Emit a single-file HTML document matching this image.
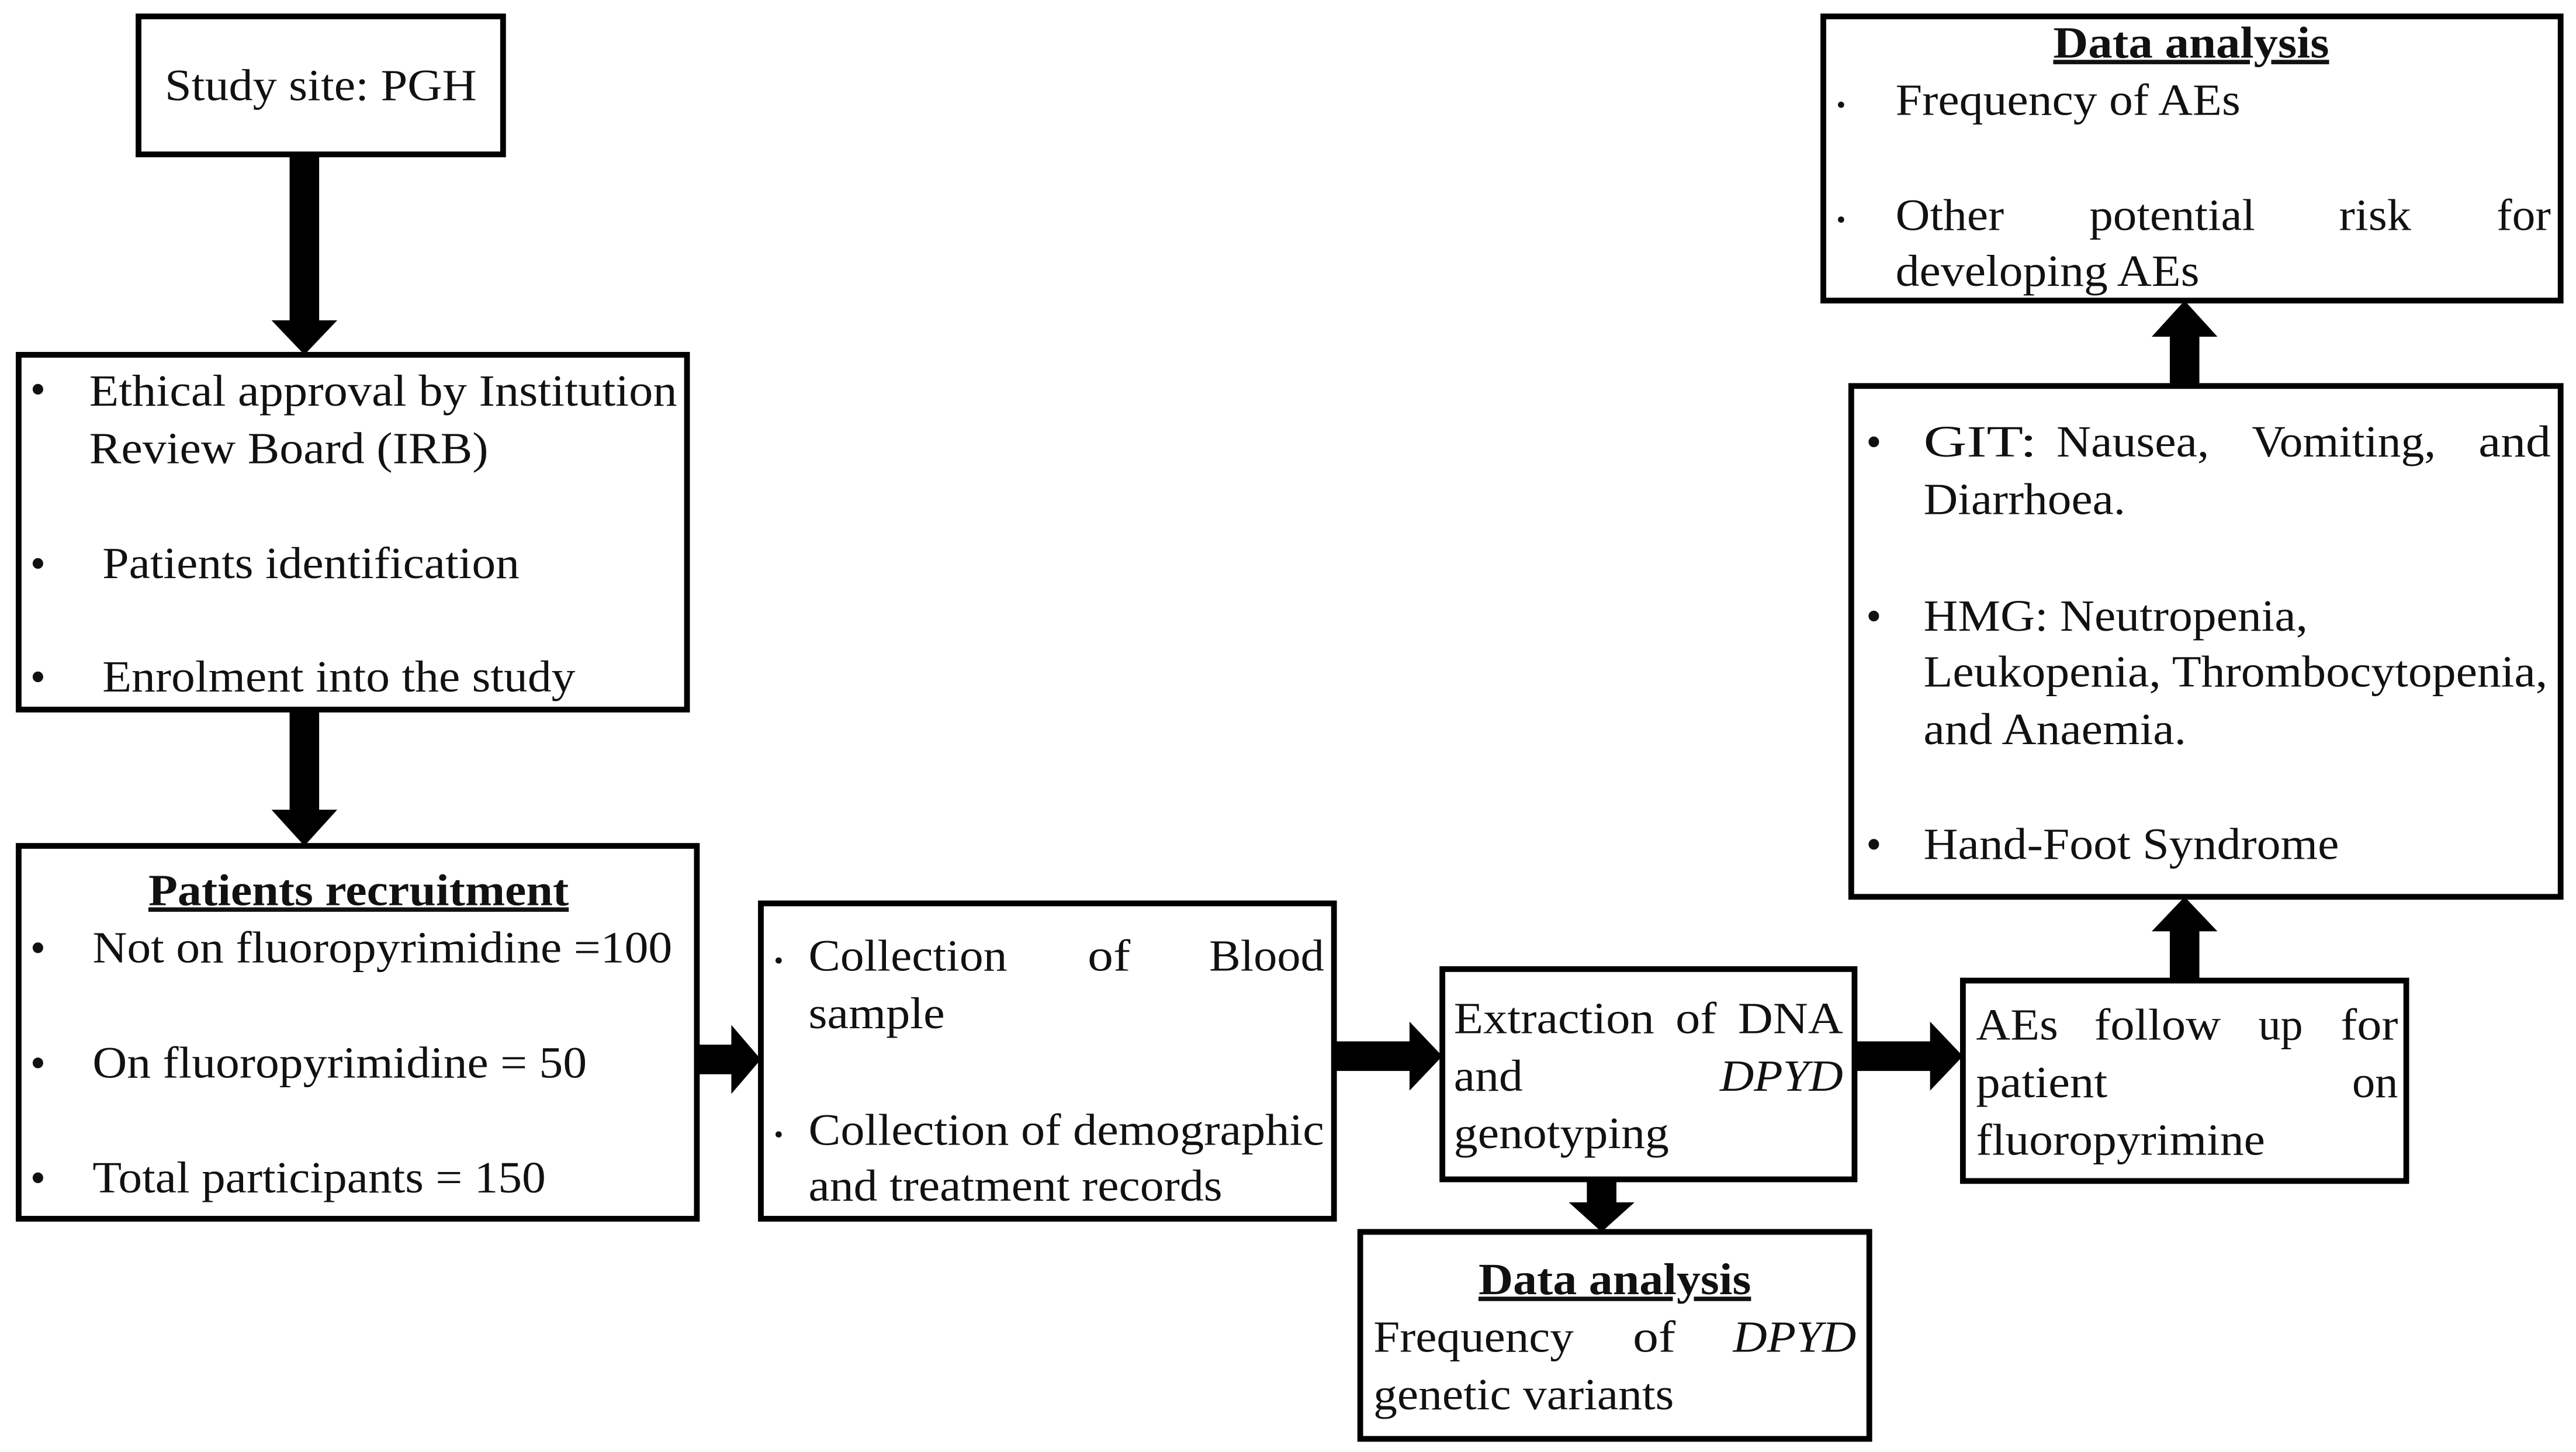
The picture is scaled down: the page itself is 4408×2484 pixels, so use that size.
<!DOCTYPE html>
<html><head><meta charset="utf-8"><style>
html,body{margin:0;padding:0;background:#fff;}
svg{display:block;}
text{font-family:"Liberation Serif","Times New Roman",serif;font-size:27px;fill:#111;}
.b{font-weight:bold;text-decoration:underline;}
</style></head><body>
<svg width="4408" height="2484" viewBox="0 0 1568 884" xmlns="http://www.w3.org/2000/svg">
<g fill="none" stroke="#000" stroke-width="3.5">
<rect x="84" y="10" width="222" height="84"/>
<rect x="11" y="216" width="407" height="216"/>
<rect x="11" y="515" width="413" height="227"/>
<rect x="463" y="550" width="349" height="192"/>
<rect x="878" y="590" width="251" height="128"/>
<rect x="828" y="750" width="310" height="126"/>
<rect x="1195" y="597" width="270" height="122"/>
<rect x="1127" y="235" width="432" height="311"/>
<rect x="1110" y="10" width="449" height="173"/>
</g>
<g fill="#000">
<polygon points="176,94 194,94 194,195 205,195 185,216 165,195 176,195"/>
<polygon points="176,432 194,432 194,493 205,493 185,515 165,493 176,493"/>
<polygon points="424,636 445,636 445,624 463,645 445,666 445,654 424,654"/>
<polygon points="812,634 858,634 858,622 878,643 858,664 858,652 812,652"/>
<polygon points="1129,634 1175,634 1175,622 1195,643 1175,664 1175,652 1129,652"/>
<polygon points="966,718 984,718 984,732 995,732 975,750 955,732 966,732"/>
<polygon points="1321,597 1339,597 1339,567 1350,567 1330,546 1310,567 1321,567"/>
<polygon points="1321,235 1339,235 1339,205 1350,205 1330,183 1310,205 1321,205"/>
</g>
<g lengthAdjust="spacingAndGlyphs">
<text x="100" y="61" textLength="190" lengthAdjust="spacingAndGlyphs">Study site: PGH</text>

<text x="18" y="246">•</text><text x="54" y="247" textLength="358" lengthAdjust="spacingAndGlyphs">Ethical approval by Institution</text>
<text x="54" y="282" textLength="243" lengthAdjust="spacingAndGlyphs">Review Board (IRB)</text>
<text x="18" y="352">•</text><text x="62" y="352" textLength="254" lengthAdjust="spacingAndGlyphs">Patients identification</text>
<text x="18" y="421">•</text><text x="62" y="421" textLength="288" lengthAdjust="spacingAndGlyphs">Enrolment into the study</text>

<text x="90" y="551" class="b" textLength="256" lengthAdjust="spacingAndGlyphs">Patients recruitment</text>
<text x="18" y="586">•</text><text x="56" y="586" textLength="353" lengthAdjust="spacingAndGlyphs">Not on fluoropyrimidine =100</text>
<text x="18" y="656">•</text><text x="56" y="656" textLength="301" lengthAdjust="spacingAndGlyphs">On fluoropyrimidine = 50</text>
<text x="18" y="726">•</text><text x="56" y="726" textLength="276" lengthAdjust="spacingAndGlyphs">Total participants = 150</text>

<text x="471" y="590" style="font-size:16px">•</text>
<text x="492" y="591" textLength="121" lengthAdjust="spacingAndGlyphs">Collection</text>
<text x="662" y="591" textLength="26" lengthAdjust="spacingAndGlyphs">of</text>
<text x="736" y="591" textLength="70" lengthAdjust="spacingAndGlyphs">Blood</text>
<text x="492" y="626" textLength="83" lengthAdjust="spacingAndGlyphs">sample</text>
<text x="471" y="696" style="font-size:16px">•</text><text x="492" y="697" textLength="314" lengthAdjust="spacingAndGlyphs">Collection of demographic</text>
<text x="492" y="731" textLength="252" lengthAdjust="spacingAndGlyphs">and treatment records</text>

<text x="885" y="629" textLength="122" lengthAdjust="spacingAndGlyphs">Extraction</text>
<text x="1020" y="629" textLength="25" lengthAdjust="spacingAndGlyphs">of</text>
<text x="1058" y="629" textLength="64" lengthAdjust="spacingAndGlyphs">DNA</text>
<text x="885" y="664" textLength="42" lengthAdjust="spacingAndGlyphs">and</text><text x="1047" y="664" font-style="italic" textLength="75" lengthAdjust="spacingAndGlyphs">DPYD</text>
<text x="885" y="699" textLength="131" lengthAdjust="spacingAndGlyphs">genotyping</text>

<text x="900" y="788" class="b" textLength="166" lengthAdjust="spacingAndGlyphs">Data analysis</text>
<text x="836" y="823" textLength="122" lengthAdjust="spacingAndGlyphs">Frequency</text><text x="994" y="823" textLength="26" lengthAdjust="spacingAndGlyphs">of</text><text x="1055" y="823" font-style="italic" textLength="75" lengthAdjust="spacingAndGlyphs">DPYD</text>
<text x="836" y="858" textLength="183" lengthAdjust="spacingAndGlyphs">genetic variants</text>

<text x="1203" y="633" textLength="50" lengthAdjust="spacingAndGlyphs">AEs</text>
<text x="1275" y="633" textLength="77" lengthAdjust="spacingAndGlyphs">follow</text>
<text x="1375" y="633" textLength="27" lengthAdjust="spacingAndGlyphs">up</text>
<text x="1425" y="633" textLength="35" lengthAdjust="spacingAndGlyphs">for</text>
<text x="1203" y="668" textLength="80" lengthAdjust="spacingAndGlyphs">patient</text><text x="1432" y="668" textLength="28" lengthAdjust="spacingAndGlyphs">on</text>
<text x="1203" y="703" textLength="176" lengthAdjust="spacingAndGlyphs">fluoropyrimine</text>

<text x="1136" y="278">•</text>
<text x="1171" y="278" textLength="69" lengthAdjust="spacingAndGlyphs">GIT:</text>
<text x="1252" y="278" textLength="93" lengthAdjust="spacingAndGlyphs">Nausea,</text>
<text x="1371" y="278" textLength="112" lengthAdjust="spacingAndGlyphs">Vomiting,</text>
<text x="1509" y="278" textLength="44" lengthAdjust="spacingAndGlyphs">and</text>
<text x="1171" y="313" textLength="123" lengthAdjust="spacingAndGlyphs">Diarrhoea.</text>
<text x="1136" y="384">•</text><text x="1171" y="384" textLength="234" lengthAdjust="spacingAndGlyphs">HMG: Neutropenia,</text>
<text x="1171" y="418" textLength="380" lengthAdjust="spacingAndGlyphs">Leukopenia, Thrombocytopenia,</text>
<text x="1171" y="453" textLength="160" lengthAdjust="spacingAndGlyphs">and Anaemia.</text>
<text x="1136" y="523">•</text><text x="1171" y="523" textLength="253" lengthAdjust="spacingAndGlyphs">Hand-Foot Syndrome</text>

<text x="1250" y="35" class="b" textLength="168" lengthAdjust="spacingAndGlyphs">Data analysis</text>
<text x="1118" y="69" style="font-size:16px">•</text><text x="1154" y="70" textLength="210" lengthAdjust="spacingAndGlyphs">Frequency of AEs</text>
<text x="1118" y="139" style="font-size:16px">•</text>
<text x="1154" y="140" textLength="66" lengthAdjust="spacingAndGlyphs">Other</text>
<text x="1272" y="140" textLength="101" lengthAdjust="spacingAndGlyphs">potential</text>
<text x="1424" y="140" textLength="44" lengthAdjust="spacingAndGlyphs">risk</text>
<text x="1520" y="140" textLength="33" lengthAdjust="spacingAndGlyphs">for</text>
<text x="1154" y="174" textLength="185" lengthAdjust="spacingAndGlyphs">developing AEs</text>
</g>
</svg>
</body></html>
